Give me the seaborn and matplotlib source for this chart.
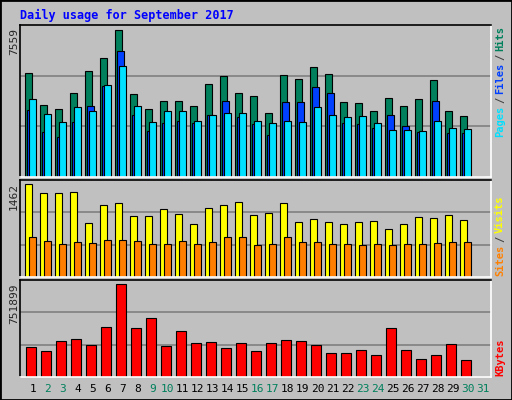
import numpy as np
import pandas as pd
import seaborn as sns
import matplotlib.pyplot as plt

days = list(range(1, 32))
hits = [5313, 3719, 3514, 4336, 5416, 6085, 7559, 4234, 3514, 3925, 3925, 3668, 4748, 5159, 4336,
        4131, 3308, 5211, 5005, 5622, 5262, 3874, 3822, 3411, 4079, 3668, 3977, 4953, 3411, 3154, 0]
files = [3462, 2331, 2074, 2845, 3668, 4645, 6445, 3205, 2382, 2794, 2897, 2794, 3205, 3925, 3102,
         2742, 2177, 3874, 3874, 4594, 4285, 2794, 2742, 2537, 3205, 2640, 2331, 3925, 2280, 2280, 0]
pages = [4028, 3257, 2845, 3617, 3411, 4696, 5673, 3668, 2845, 3411, 3411, 2897, 3205, 3308, 3308,
         2897, 2794, 2897, 2845, 3617, 3205, 3102, 3154, 2794, 2434, 2434, 2382, 2897, 2537, 2485, 0]
visits = [1462, 1319, 1319, 1335, 858, 1128, 1160, 969, 969, 1065, 1001, 842, 1081, 1128, 1176,
          985, 1017, 1160, 874, 922, 874, 842, 874, 890, 763, 842, 953, 938, 985, 906, 0]
sites = [636, 572, 524, 556, 540, 588, 588, 572, 524, 524, 572, 524, 556, 636, 636,
         509, 524, 636, 556, 556, 524, 524, 509, 524, 509, 524, 524, 540, 556, 556, 0]
kbytes = [239600, 214800, 289200, 305700, 256100, 404800, 751899, 396600, 479200, 247900, 371800,
          272600, 280900, 231300, 272600, 214800, 272600, 297400, 289200, 256100, 198300, 198300,
          223100, 181800, 396600, 223100, 148700, 181800, 264400, 140500, 0]
weekend = [2, 3, 9, 10, 16, 17, 23, 24, 30, 31]

BG = "#c0c0c0"
W, H = 512, 400
sns.set_style("white")
plt.rcParams["font.family"] = ["DejaVu Sans Mono"]

fig = plt.figure(figsize=(5.12, 4.0), dpi=100, facecolor=BG)
fig.patches.append(plt.Rectangle((0, 0), 1, 1, transform=fig.transFigure, fill=False,
                                 edgecolor="black", lw=2))

def px_axes(x0, y0, x1, y1):
    return fig.add_axes([x0 / W, 1 - y1 / H, (x1 - x0) / W, (y1 - y0) / H])

x = np.array(days, dtype=float)
XL = (0.147, 0.147 + 471 / 15)

def style(ax, ymax):
    ax.set_facecolor(BG)
    ax.set_xlim(*XL)
    ax.set_ylim(0, ymax)
    for v in (ymax / 3, 2 * ymax / 3):
        ax.axhline(v, color="#808080", lw=1.2, zorder=0)
    ax.set_yticks([])
    ax.set_xticks([])
    ax.set_xlabel("")
    ax.set_ylabel("")
    for s in ("left", "top"):
        ax.spines[s].set_color("black")
    for s in ("right", "bottom"):
        ax.spines[s].set_color("white")
    for s in ax.spines.values():
        s.set_linewidth(1.2)

kw = dict(align="edge", edgecolor="black", linewidth=0.8, zorder=2)

# hits / files / pages
ax1 = px_axes(20, 25, 491, 177)
w = 7 / 15
ax1.bar(x - 0.5, hits, w, color="#00805c", **kw)
ax1.bar(x - 0.367, files, w, color="#0040ff", **kw)
ax1.bar(x - 0.233, pages, w, color="#00e0ff", **kw)
style(ax1, 7800)

# visits / sites
ax2 = px_axes(20, 180, 491, 277)
ax2.bar(x - 0.5, visits, w, color="#ffff00", **kw)
ax2.bar(x - 0.233, sites, w, color="#ff8000", **kw)
style(ax2, 1530)

# kbytes
ax3 = px_axes(20, 280, 491, 377)
df = pd.DataFrame({"day": x - 0.1, "kbytes": kbytes})
sns.barplot(data=df, x="day", y="kbytes", native_scale=True, width=10 / 15,
            color="#ff0000", saturation=1, edgecolor="black", linewidth=0.8, ax=ax3, zorder=2)
style(ax3, 787000)

for d in days:
    c = "#00805c" if d in weekend else "black"
    xf = (20 + (d - XL[0]) * 15) / W
    fig.text(xf, 1 - 389 / H, str(d), color=c, ha="center", va="center", fontsize=8)

fig.text(20 / W, 1 - 15 / H, "Daily usage for September 2017", color="#0000ff",
         fontsize=8.5, fontweight="bold", va="center")

for lab, ytop in (("7559", 28), ("1462", 183), ("751899", 283)):
    fig.text(14 / W, 1 - ytop / H, lab, rotation=90, ha="center", va="top", fontsize=8)

def right_label(parts, ybottom):
    y = ybottom
    for txt, col in parts:
        t = fig.text(500 / W, 1 - y / H, txt, rotation=90, ha="center", va="bottom",
                     color=col, fontsize=7.5, fontweight="bold")
        y -= len(txt) * 6.2 + 3

right_label([("Pages", "#00e0ff"), ("/", "#404040"), ("Files", "#0040ff"),
             ("/", "#404040"), ("Hits", "#00805c")], 137)
right_label([("Sites", "#ff8000"), ("/", "#404040"), ("Visits", "#ffff00")], 276)
right_label([("KBytes", "#ff0000")], 376)

fig.savefig("out.png", dpi=100, facecolor=BG)
